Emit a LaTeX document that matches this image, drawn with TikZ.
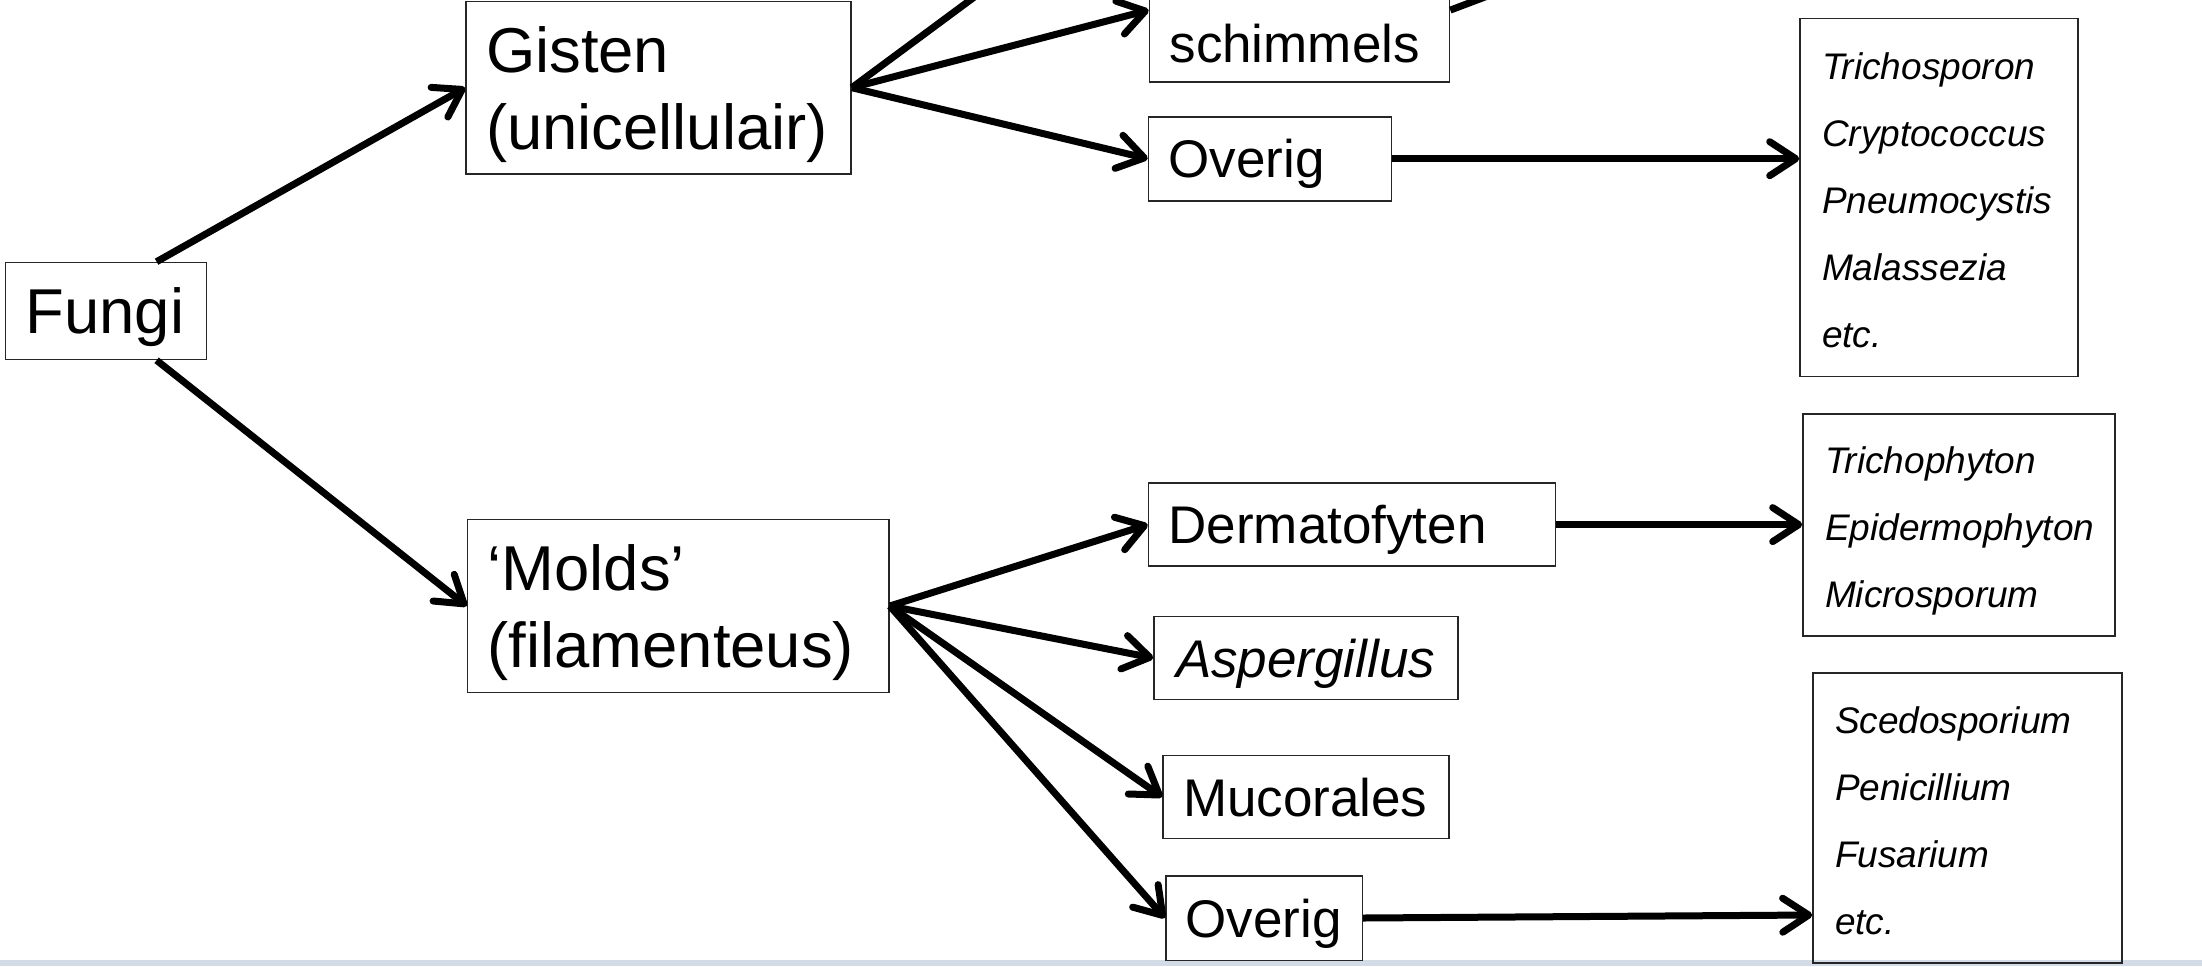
\documentclass[tikz,border=0pt]{standalone}
\usepackage{fontspec}
\setmainfont{Liberation Sans}
\usetikzlibrary{arrows.meta,calc}
\definecolor{bandgrey}{RGB}{211,220,230}
\tikzset{
  box/.style={draw=black!85,line width=0.8pt,inner xsep=10pt,inner ysep=0pt,align=left},
  oneline/.style={text depth=0pt},
  big/.style={font=\fontsize{31.7}{38.5}\selectfont},
  mid/.style={box,oneline,font=\fontsize{26.5}{32}\selectfont},
  lst/.style={font=\fontsize{18.5}{33.5}\selectfont\itshape,inner xsep=11pt},
  arr/.style={line width=3.5pt,-{Straight Barb[length=13pt,width=17pt,round]}}
}
\begin{document}
\begin{tikzpicture}[x=0.5pt,y=-0.5pt]
\useasboundingbox (0,0) rectangle (2202,966);
\fill[bandgrey] (0,960) rectangle (2202,966);
% left column
\node[box,big,oneline,text width=80.4pt,minimum height=48.5pt] (fungi) at (106,311) {Fungi};
\node[box,big,text height=29.5pt,text width=172.5pt,minimum height=86.3pt] (gisten) at (658.5,87.7) {Gisten\\(unicellulair)};
\node[box,big,text height=29.7pt,text width=190.7pt,minimum height=86.4pt] (molds) at (678.3,606) {‘Molds’\\(filamenteus)};
% middle column
\node[mid,text width=130pt,text height=56pt,text depth=4pt,inner ysep=6pt,anchor=south west] (schimmels) at (1148.7,82.9) {schimmels};
\node[mid,text width=101.5pt,minimum height=42pt] (ovY) at (1270,158.7) {Overig};
\node[mid,text width=183.5pt,minimum height=41.5pt] (derm) at (1352,524.6) {Dermatofyten};
\node[mid,text width=130pt,minimum height=41.5pt,inner xsep=11pt] (asp) at (1306,658) {\itshape Aspergillus};
\node[mid,text width=123pt,minimum height=41.5pt] (muc) at (1306,797) {Mucorales};
\node[mid,text width=78.3pt,minimum height=42.3pt] (ovM) at (1264,918) {Overig};
% right column
\node[box,lst,text height=16.3pt,text width=117pt,minimum height=179pt] (listY) at (1939,197.4) {Trichosporon\\Cryptococcus\\Pneumocystis\\Malassezia\\etc.};
\node[box,lst,text height=19.5pt,text width=134pt,minimum height=111pt] (listD) at (1959,525) {Trichophyton\\Epidermophyton\\Microsporum};
\node[box,lst,text height=16.5pt,text width=132.5pt,minimum height=145pt] (listM) at (1967.5,818) {Scedosporium\\Penicillium\\Fusarium\\etc.};
% free ends above the page
\coordinate (fu) at ($(fungi.north)!.5!(fungi.north east)$);
\coordinate (fd) at ($(fungi.south)!.5!(fungi.south east)$);
\coordinate (up) at (1148.7,-132);
\coordinate (dimo) at (1800,-122);
\coordinate (etc) at (listM.west |- 0,915);
% connectors
\draw[arr] (fu) -- (gisten.west);
\draw[arr] (fd) -- (molds.west);
\draw[arr] (gisten.east) -- (up);
\draw[arr] (gisten.east) -- (schimmels.west);
\draw[arr] (gisten.east) -- (ovY.west);
\draw[arr] (schimmels.east) -- (dimo);
\draw[arr] (ovY.east) -- (ovY.east -| listY.west);
\draw[arr] (molds.east) -- (derm.west);
\draw[arr] (molds.east) -- (asp.west);
\draw[arr] (molds.east) -- (muc.west);
\draw[arr] (molds.east) -- (ovM.west);
\draw[arr] (derm.east) -- (derm.east -| listD.west);
\draw[arr] (ovM.east) -- (etc);
\end{tikzpicture}
\end{document}
